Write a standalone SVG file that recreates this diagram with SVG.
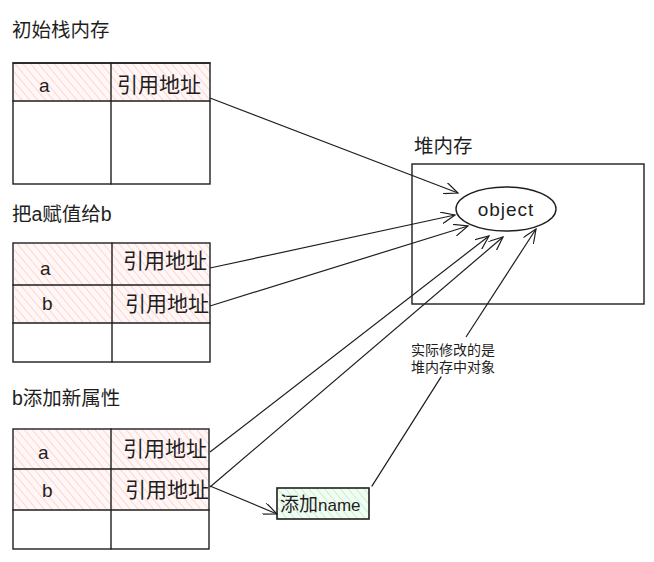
<svg xmlns="http://www.w3.org/2000/svg" width="654" height="562" viewBox="0 0 654 562">
<style>
.t{font-family:"Liberation Sans","Noto Sans CJK SC",sans-serif;fill:#1e1e1e}
.h{font-family:"Liberation Sans","Noto Sans CJK SC",sans-serif;fill:#1e1e1e}
.ln{fill:none;stroke:#1e1e1e;stroke-width:1.4;stroke-linecap:round}
.box{stroke:#1e1e1e;stroke-width:1.6}
.pink{fill:url(#hp)}
.green{fill:url(#hg)}
.ar{fill:none;stroke:#1e1e1e;stroke-width:1.2;marker-end:url(#ah)}
</style>
<defs>
<pattern id="hp" width="6" height="6" patternUnits="userSpaceOnUse" patternTransform="rotate(-40)">
<rect width="6" height="6" fill="#fff6f6"/>
<line x1="0" y1="0" x2="0" y2="6" stroke="#ffc9c9" stroke-width="1.5"/>
</pattern>
<pattern id="hg" width="6" height="6" patternUnits="userSpaceOnUse" patternTransform="rotate(-40)">
<rect width="6" height="6" fill="#f3fcf4"/>
<line x1="0" y1="0" x2="0" y2="6" stroke="#b2f2bb" stroke-width="1.5"/>
</pattern>
<marker id="ah" markerWidth="16" markerHeight="12" refX="14" refY="6" orient="auto" markerUnits="userSpaceOnUse">
<path d="M0,0 L14,6 L0,12" fill="none" stroke="#1e1e1e" stroke-width="1.2"/>
</marker>
</defs>

<g id="title1"><text class="t" x="12" y="37" font-size="19.5">初始栈内存</text></g>
<g id="stack1">
<rect class="pink" x="13" y="63" width="197" height="38"/>
<rect class="ln" x="13" y="63" width="197" height="121"/>
<line class="ln" x1="13" y1="101" x2="210" y2="101" stroke-width="2"/>
<line class="ln" x1="13" y1="63" x2="210" y2="63" stroke-width="2"/>
<line class="ln" x1="111" y1="63" x2="111" y2="184"/>
<text class="h" x="39" y="92" font-size="19">a</text>
<text class="t" x="117" y="92" font-size="21">引用地址</text>
</g>

<g id="title2"><text class="t" x="12" y="221" font-size="19.5">把a赋值给b</text></g>
<g id="stack2">
<rect class="pink" x="14" y="244" width="196" height="79"/>
<rect class="ln" x="13" y="243" width="197" height="119"/>
<line class="ln" x1="13" y1="285" x2="210" y2="285" stroke-width="2"/>
<line class="ln" x1="13" y1="323" x2="210" y2="323" stroke-width="1.8"/>
<line class="ln" x1="112" y1="243" x2="112" y2="362"/>
<text class="h" x="40" y="275" font-size="19">a</text>
<text class="h" x="42" y="310" font-size="19">b</text>
<text class="t" x="123" y="268" font-size="21">引用地址</text>
<text class="t" x="125" y="311" font-size="21">引用地址</text>
</g>

<g id="title3"><text class="t" x="12" y="405" font-size="19.5">b添加新属性</text></g>
<g id="stack3">
<rect class="pink" x="14" y="430" width="195" height="80"/>
<rect class="ln" x="13" y="429" width="196" height="120"/>
<line class="ln" x1="13" y1="469" x2="209" y2="469" stroke-width="2"/>
<line class="ln" x1="13" y1="510" x2="209" y2="510" stroke-width="1.8"/>
<line class="ln" x1="111" y1="429" x2="111" y2="549"/>
<text class="h" x="38" y="459" font-size="19">a</text>
<text class="h" x="42" y="497" font-size="19">b</text>
<text class="t" x="123" y="456" font-size="21">引用地址</text>
<text class="t" x="125" y="497" font-size="21">引用地址</text>
</g>

<g id="heap">
<text class="t" x="414" y="153" font-size="19.5">堆内存</text>
<rect class="ln" x="412" y="164" width="232" height="140"/>
</g>
<g id="object">
<ellipse class="ln" cx="506" cy="209" rx="50" ry="22" fill="#fff"/>
<text class="h" x="506" y="216" font-size="19" text-anchor="middle" letter-spacing="1">object</text>
</g>

<g id="addname">
<rect class="green box" x="277" y="488" width="92" height="31"/>
<text class="t" x="280" y="511" font-size="19">添加<tspan font-size="17">name</tspan></text>
</g>

<g id="note">
<text class="t" x="411" y="355" font-size="14">实际修改的是</text>
<text class="t" x="411" y="372" font-size="14">堆内存中对象</text>
</g>

<g id="connectors">
<line class="ar" x1="210" y1="98" x2="458" y2="193"/>
<line class="ar" x1="210" y1="268" x2="455" y2="215"/>
<line class="ar" x1="210" y1="306" x2="468" y2="226"/>
<line class="ar" x1="210" y1="452" x2="489" y2="236"/>
<line class="ar" x1="210" y1="487" x2="503" y2="237"/>
<line class="ar" x1="210" y1="486" x2="277" y2="514"/>
<line class="ln" x1="372" y1="486" x2="441" y2="377" stroke-width="1.2"/>
<line class="ar" x1="466" y1="337" x2="536" y2="229"/>
</g>
</svg>
